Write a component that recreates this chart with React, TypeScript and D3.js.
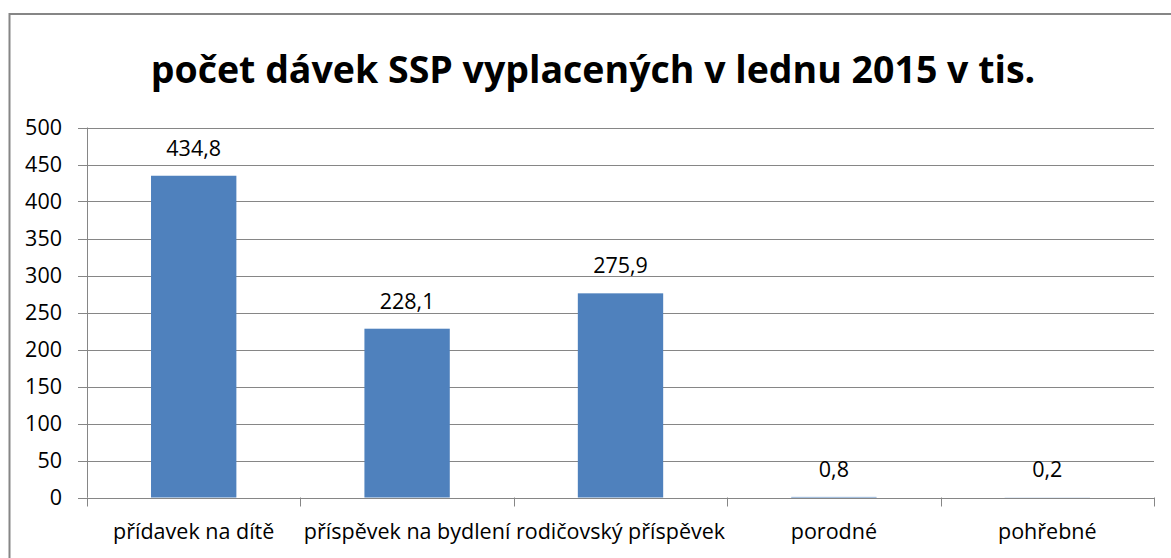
import { useEffect, useRef } from 'react';
import * as d3 from 'd3';

const categories = ['přídavek na dítě', 'příspěvek na bydlení', 'rodičovský příspěvek', 'porodné', 'pohřebné'];
const values = [434.8, 228.1, 275.9, 0.8, 0.2];
const valueLabels = ['434,8', '228,1', '275,9', '0,8', '0,2'];
const yTicks = [0, 50, 100, 150, 200, 250, 300, 350, 400, 450, 500];
const title = 'počet dávek SSP vyplacených v lednu 2015 v tis.';

export default function App() {
  const svgRef = useRef<SVGSVGElement>(null);

  useEffect(() => {
    if (!svgRef.current) return;
    const svg = d3.select(svgRef.current);
    svg.selectAll('*').remove();

    const font = '"Open Sans", sans-serif';
    const grey = '#868686';
    const plot = { left: 87, right: 1154, top: 127.5, bottom: 497.5 };

    // outer frame (right and bottom edges sit outside the picture)
    svg.append('rect')
      .attr('x', 9.5)
      .attr('y', 14)
      .attr('width', 1200)
      .attr('height', 600)
      .attr('fill', 'white')
      .attr('stroke', grey)
      .attr('stroke-width', 2);

    svg.append('text')
      .attr('x', 593)
      .attr('y', 83)
      .attr('text-anchor', 'middle')
      .attr('font-family', font)
      .attr('font-weight', 'bold')
      .attr('font-size', 37.5)
      .attr('fill', '#000')
      .text(title);

    const x = d3.scaleBand<string>()
      .domain(categories)
      .range([plot.left, plot.right])
      .paddingInner(0.6)
      .paddingOuter(0.3);

    const xOuter = d3.scaleBand<string>()
      .domain(categories)
      .range([plot.left, plot.right]);

    const y = d3.scaleLinear()
      .domain([0, 500])
      .range([plot.bottom, plot.top]);

    // gridlines
    svg.append('g')
      .selectAll('line')
      .data(yTicks)
      .join('line')
      .attr('x1', plot.left - 9)
      .attr('x2', plot.right)
      .attr('y1', d => Math.round(y(d)) + 0.5)
      .attr('y2', d => Math.round(y(d)) + 0.5)
      .attr('stroke', grey)
      .attr('stroke-width', 1);

    // y axis line
    svg.append('line')
      .attr('x1', plot.left + 0.5)
      .attr('x2', plot.left + 0.5)
      .attr('y1', plot.top)
      .attr('y2', plot.bottom)
      .attr('stroke', grey);

    // y tick labels
    svg.append('g')
      .selectAll('text')
      .data(yTicks)
      .join('text')
      .attr('x', 62)
      .attr('y', d => y(d))
      .attr('dy', '0.35em')
      .attr('text-anchor', 'end')
      .attr('font-family', font)
      .attr('font-size', 21.5)
      .attr('fill', '#000')
      .text(d => d);

    // category ticks
    const boundaries = categories.map(c => xOuter(c) as number).concat([plot.right]);
    svg.append('g')
      .selectAll('line')
      .data(boundaries)
      .join('line')
      .attr('x1', d => Math.round(d) + 0.5)
      .attr('x2', d => Math.round(d) + 0.5)
      .attr('y1', plot.bottom)
      .attr('y2', plot.bottom + 9)
      .attr('stroke', grey);

    // bars
    svg.append('g')
      .selectAll('rect')
      .data(values)
      .join('rect')
      .attr('x', (d, i) => x(categories[i]) as number)
      .attr('width', x.bandwidth())
      .attr('y', d => y(d))
      .attr('height', d => y(0) - y(d))
      .attr('fill', '#4F81BD');

    // value labels
    svg.append('g')
      .selectAll('text')
      .data(values)
      .join('text')
      .attr('x', (d, i) => (xOuter(categories[i]) as number) + xOuter.bandwidth() / 2)
      .attr('y', d => y(d) - 20)
      .attr('text-anchor', 'middle')
      .attr('font-family', font)
      .attr('font-size', 21.5)
      .attr('fill', '#000')
      .text((d, i) => valueLabels[i]);

    // category labels
    svg.append('g')
      .selectAll('text')
      .data(categories)
      .join('text')
      .attr('x', d => (xOuter(d) as number) + xOuter.bandwidth() / 2)
      .attr('y', 539)
      .attr('text-anchor', 'middle')
      .attr('font-family', font)
      .attr('font-size', 21.5)
      .attr('fill', '#000')
      .text(d => d);
  }, []);

  return (
    <svg
      ref={svgRef}
      width={1171}
      height={558}
      style={{ position: 'absolute', left: 0, top: 0, background: 'white' }}
    />
  );
}
